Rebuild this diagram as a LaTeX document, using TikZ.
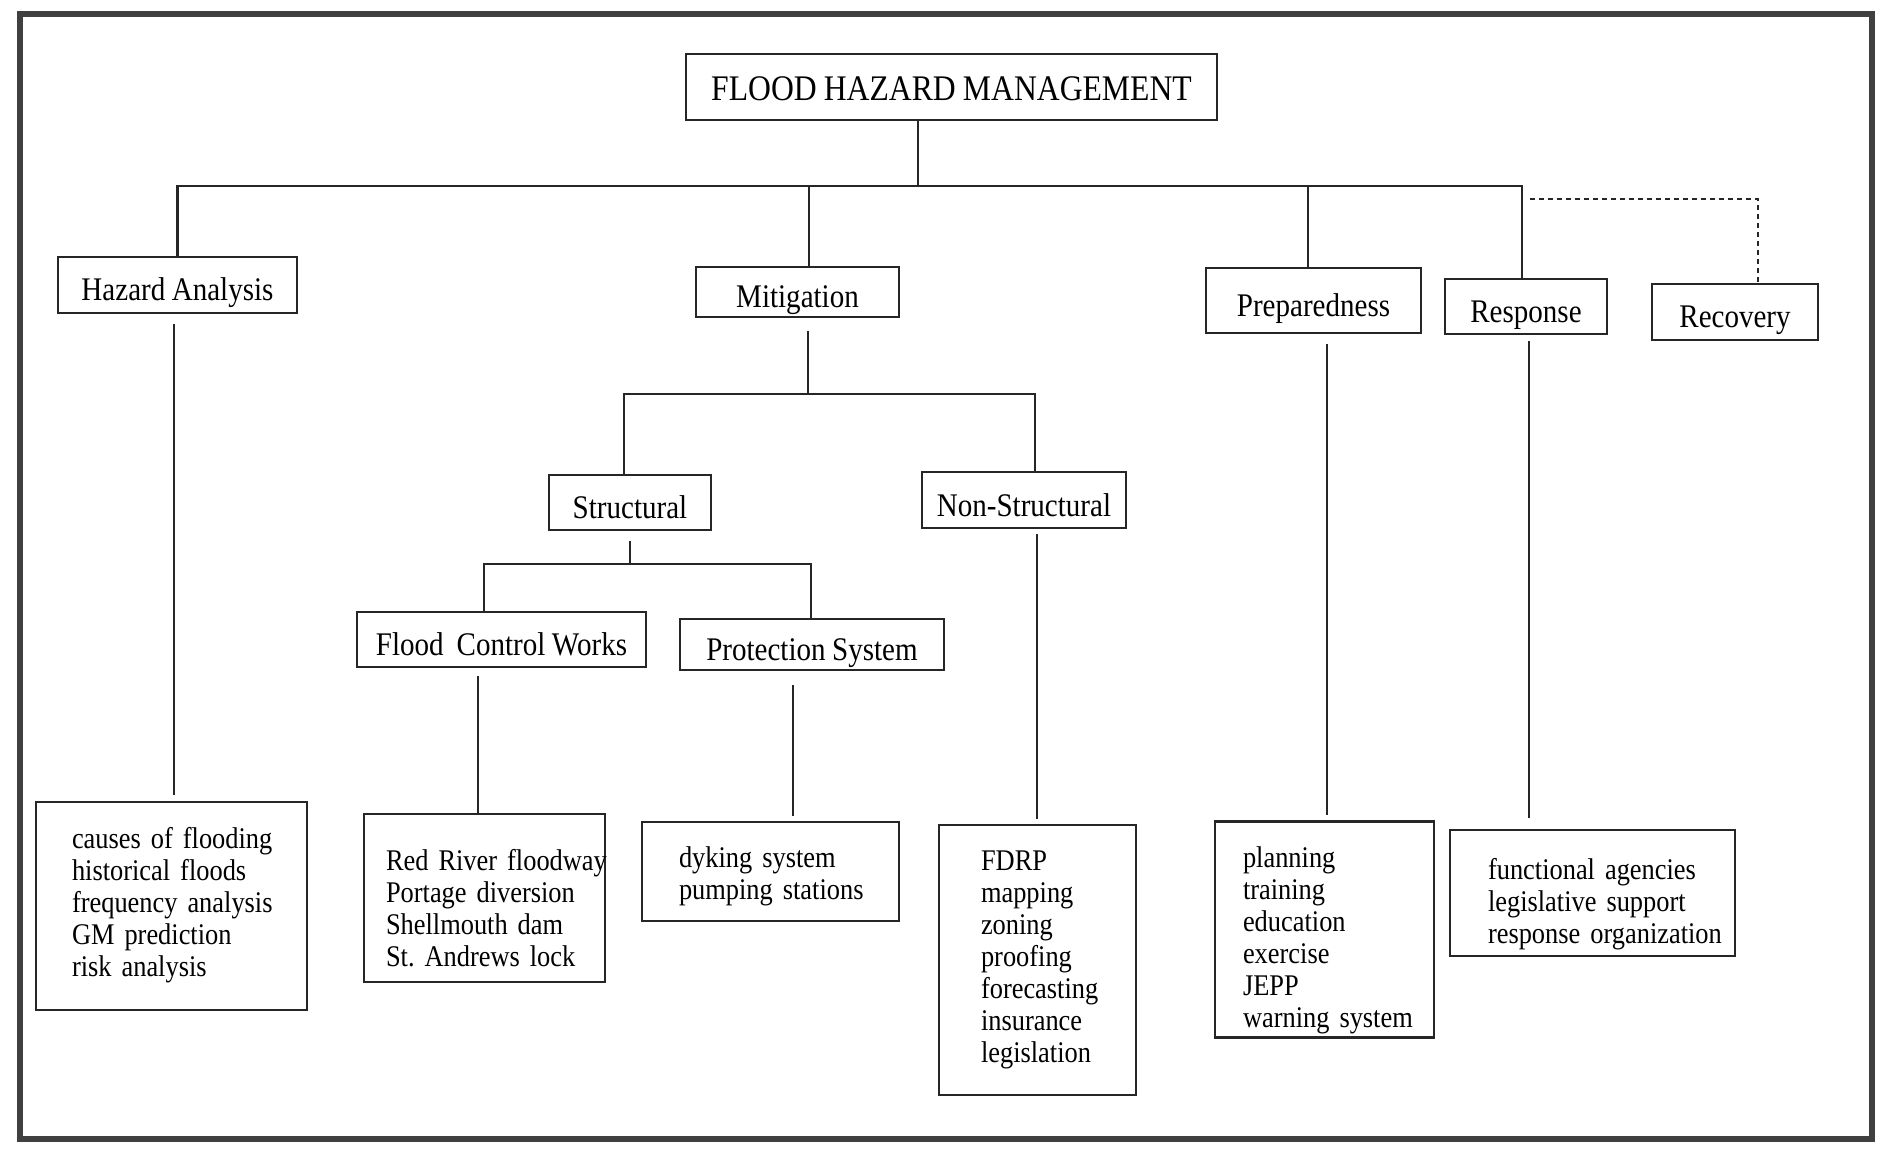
\documentclass[tikz,border=0pt]{standalone}
\usepackage{fontspec}
\setmainfont{Liberation Serif}[FakeStretch=0.88, WordSpace=0.9]
\frenchspacing
% left-aligned list; optional argument adds room above the first line
\newcommand{\itemlist}[2][0pt]{\begin{tabular}{@{}l@{}}\rule{0pt}{\dimexpr 22.4pt+#1\relax}#2\end{tabular}}
\begin{document}
\begin{tikzpicture}[x=1pt,y=-1pt,
  hbox/.style={draw=black!85, line width=2.6pt, inner sep=0pt,
               text height=32pt, text depth=0pt,
               font=\fontsize{33}{36}\selectfont},
  lbox/.style={draw=black!85, line width=2.6pt, inner ysep=0pt, align=left,
               font=\fontsize{30}{32}\selectfont},
  conn/.style={draw=black!85, line width=2.2pt},
  dconn/.style={conn, dash pattern=on 5pt off 4pt},
]
\useasboundingbox (0,0) rectangle (1885,1150);
% outer frame
\draw[black!75, line width=6pt] (20,14) rectangle (1872,1139);

% title
\node[hbox, minimum width=531pt, minimum height=66pt, text height=28pt,
      font=\fontsize{36}{40}\selectfont] (top) at (951.5,87) {FLOOD HAZARD MANAGEMENT};

% first level
\node[hbox, minimum width=239pt, minimum height=56pt] (ha)   at (177.5,285)  {Hazard Analysis};
\node[hbox, minimum width=203pt, minimum height=50pt] (mit)  at (797.5,292)  {Mitigation};
\node[hbox, minimum width=215pt, minimum height=65pt] (prep) at (1313.5,300.5) {Preparedness};
\node[hbox, minimum width=162pt, minimum height=55pt] (resp) at (1526,306.5) {Response};
\node[hbox, minimum width=166pt, minimum height=56pt] (rec)  at (1735,312)   {Recovery};

% mitigation branches
\node[hbox, minimum width=162pt, minimum height=55pt] (str) at (630,502.5) {Structural};
\node[hbox, minimum width=204pt, minimum height=56pt] (ns)  at (1024,500)  {Non-Structural};
\node[hbox, minimum width=289pt, minimum height=55pt] (fcw) at (501.5,639.5) {Flood\ \ Control Works};
\node[hbox, minimum width=264pt, minimum height=51pt] (ps)  at (812,644.5) {Protection System};

% item lists
\node[lbox, minimum height=208pt, text width=199pt, inner xsep=36pt] (causes) at (171.5,906)
  {\itemlist{causes of flooding\\historical floods\\frequency analysis\\GM prediction\\risk analysis}};
\node[lbox, minimum height=168pt, text width=197pt, inner xsep=22pt] (rr) at (484.5,898)
  {\itemlist[28pt]{Red River floodway\\Portage diversion\\Shellmouth dam\\St. Andrews lock}};
\node[lbox, minimum height=99pt, text width=183pt, inner xsep=37pt] (dyk) at (770.5,871.5)
  {\itemlist[12pt]{dyking system\\pumping stations}};
\node[lbox, minimum height=270pt, text width=113pt, inner xsep=42pt] (fdrp) at (1037.5,960)
  {\itemlist{FDRP\\mapping\\zoning\\proofing\\forecasting\\insurance\\legislation}};
\node[lbox, minimum height=215pt, text width=163pt, inner xsep=28pt] (plan) at (1324.5,929.5)
  {\itemlist[24pt]{planning\\training\\education\\exercise\\JEPP\\warning system}};
\node[lbox, minimum height=126pt, text width=209pt, inner xsep=38pt] (func) at (1592.5,893)
  {\itemlist[24pt]{functional agencies\\legislative support\\response organization}};

% junction points on the buses
\coordinate (jtop)  at (918,186);
\coordinate (jmit)  at (809,186);
\coordinate (jprep) at (1308,186);
\coordinate (jresp) at (1522,186);
\coordinate (dstart) at (1530,199);
\coordinate (jrec)  at (1758,199);
\coordinate (jm)    at (808,394);
\coordinate (jstr)  at (624,394);
\coordinate (jns)   at (1035,394);
\coordinate (js)    at (630,564);
\coordinate (jfcw)  at (484,564);
\coordinate (jps)   at (811,564);
% drop lines to the item lists
\coordinate (dha)   at (174,0);
\coordinate (dfcw)  at (478,0);
\coordinate (dps)   at (793,0);
\coordinate (dns)   at (1037,0);
\coordinate (dprep) at (1327,0);
\coordinate (dresp) at (1529,0);

% main bus
\draw[conn, line width=1.6pt] (top.south -| jtop) -- (jtop);
\draw[conn] (ha.north) |- (jresp) -- (resp.north -| jresp);
\draw[conn] (jmit) -- (mit.north -| jmit);
\draw[conn] (jprep) -- (prep.north -| jprep);
\draw[dconn] (dstart) -- (jrec) -- (rec.north -| jrec);

% mitigation tree
\draw[conn, shorten <=13pt] (mit.south -| jm) -- (jm);
\draw[conn] (str.north -| jstr) |- (jns) -- (ns.north -| jns);
\draw[conn, shorten <=10pt] (str.south) -- (js);
\draw[conn] (fcw.north -| jfcw) |- (jps) -- (ps.north -| jps);

% drops to the lists
\draw[conn, shorten <=10pt, shorten >=6pt] (ha.south -| dha) -- (causes.north -| dha);
\draw[conn, shorten <=8pt] (fcw.south -| dfcw) -- (rr.north -| dfcw);
\draw[conn, shorten <=14pt, shorten >=5pt] (ps.south -| dps) -- (dyk.north -| dps);
\draw[conn, shorten <=5pt, shorten >=5pt] (ns.south -| dns) -- (fdrp.north -| dns);
\draw[conn, shorten <=10pt, shorten >=5pt] (prep.south -| dprep) -- (plan.north -| dprep);
\draw[conn, shorten <=6pt, shorten >=11pt] (resp.south -| dresp) -- (func.north -| dresp);
\end{tikzpicture}
\end{document}
